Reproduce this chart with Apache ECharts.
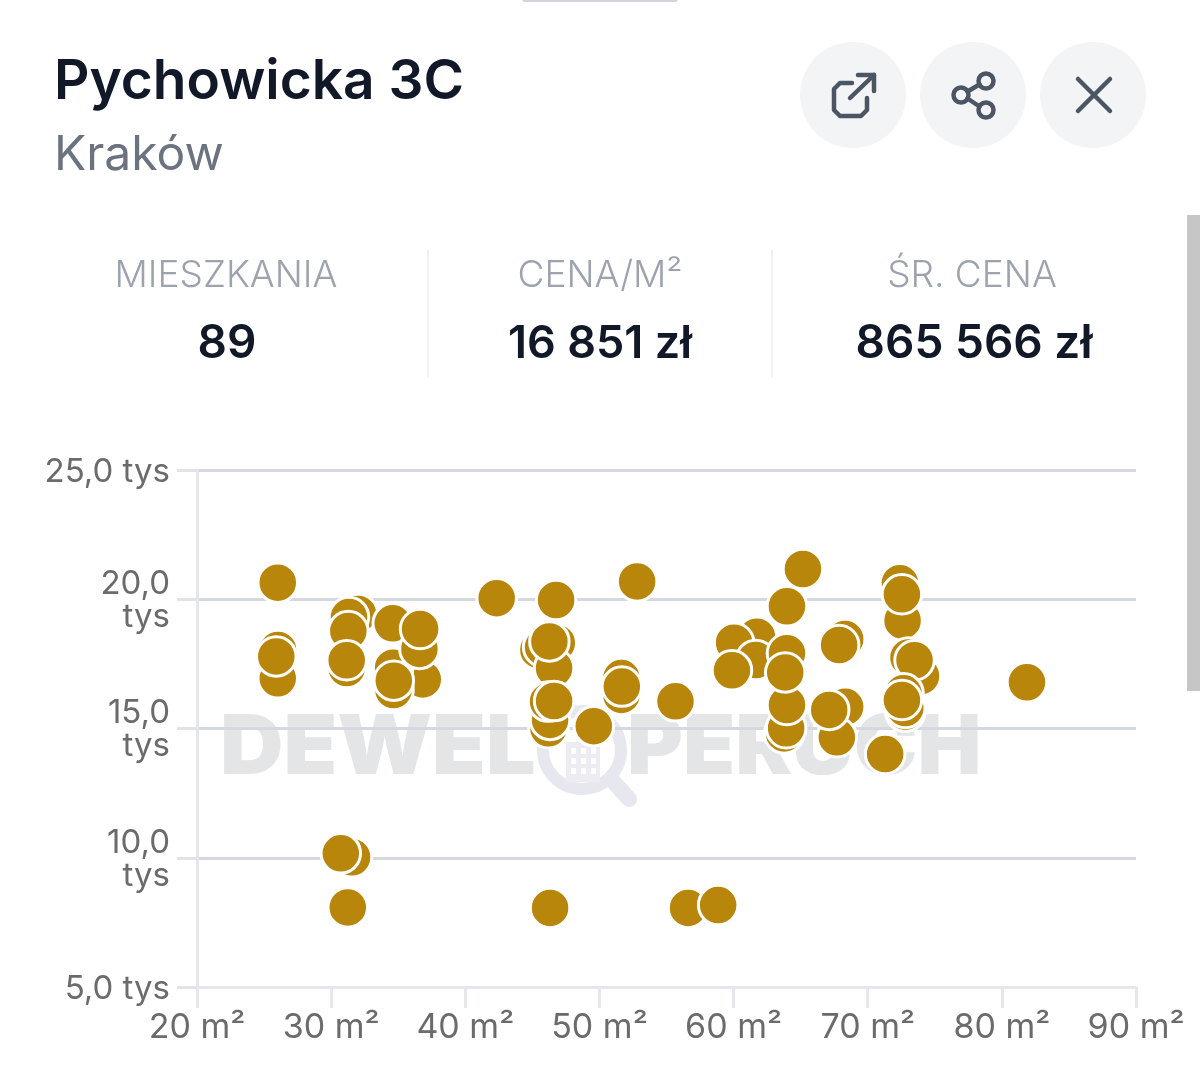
<!DOCTYPE html>
<html><head><meta charset="utf-8">
<style>html,body{margin:0;padding:0;background:#fff}#c{width:1200px;height:1089px}</style>
<script src="https://cdn.jsdelivr.net/npm/echarts@6/dist/echarts.min.js"></script>
</head><body><div id="c"></div>
<script>
const areaM2 = [26.02,26.02,26.04,25.91,32.0,31.33,31.28,31.16,31.16,34.59,36.83,34.62,34.65,34.67,36.58,36.63,
42.34,46.77,52.81,55.67,45.45,45.80,46.82,46.62,46.27,46.20,46.32,46.17,46.62,49.58,51.64,51.64,51.67,
61.74,60.04,61.65,59.88,63.98,65.17,63.77,63.92,63.98,63.98,63.85,68.32,67.87,68.32,67.70,67.13,
72.40,72.60,72.55,73.97,73.04,73.49,72.67,72.80,72.80,72.55,71.30,81.87,31.56,30.72,31.24,46.32,56.61,58.85];
const pricePerM2 = [20640,16940,18040,17790,19430,19310,18770,17340,17640,19070,16900,17350,16490,16850,18080,18850,
20040,19970,20690,16050,18040,18150,18310,17330,18370,15010,15330,16040,16060,15090,16950,16300,16620,
18550,18320,17650,17250,19730,21170,14810,15010,15910,17910,17170,18460,18230,15840,14660,15720,
20620,19170,20190,17030,17750,17640,16360,15650,15790,16100,14010,16790,10020,10170,8080,8060,8060,8170];
const yTickLabels = {5000:['5,0 tys'],10000:['10,0','tys'],15000:['15,0','tys'],20000:['20,0','tys'],25000:['25,0 tys']};
const xTickSuffix = ' m²';
const titleText = 'Pychowicka 3C';
const cityText = 'Kraków';
const statLabels = ['MIESZKANIA','CENA/M²','ŚR. CENA'];
const statValues = ['89','16 851 zł','865 566 zł'];

const FONT = 'Inter, "Noto Sans", sans-serif';
const ICON = {stroke:'#4b5563',lineWidth:4.5,fill:'none',lineCap:'round',lineJoin:'round'};
const txt=(text,x,y,font,fill,align,z)=>({type:'text',z:z||10,style:{text,x,y,font,fill,textAlign:align||'left',textVerticalAlign:'middle'}});
const line=(a,b,c,d)=>({type:'line',z:10,shape:{x1:a,y1:b,x2:c,y2:d},style:ICON});
const poly=(pts)=>({type:'polyline',z:10,shape:{points:pts},style:ICON});
const circ=(x,y,r,st)=>({type:'circle',z:9,shape:{cx:x,cy:y,r},style:st});

const windows=[];
[571,581,591].forEach(x=>[748,758,768].forEach(y=>windows.push({type:'rect',z:-1,shape:{x,y,width:5,height:6},style:{fill:'#ffffff'}})));

const elements=[
 {type:'rect',shape:{x:522,y:-4,width:156,height:6,r:3},style:{fill:'#d1d5db'}},
 {type:'rect',shape:{x:1187,y:215,width:13,height:476},style:{fill:'#c6c6c6'}},
 txt(titleText,54,82,'600 55px '+FONT,'#111827'),
 txt(cityText,54,156,'400 48px '+FONT,'#6b7280'),
 circ(853,95,53,{fill:'#f3f4f6'}),circ(973,95,53,{fill:'#f3f4f6'}),circ(1093,95,53,{fill:'#f3f4f6'}),
 poly([[852,83],[840,83],[834,89],[834,110],[840,116],[861,116],[867,110],[867,98]]),
 line(850,98,874,75),poly([[858,75],[874,75],[874,91]]),
 {type:'circle',z:10,shape:{cx:986,cy:81,r:7.5},style:ICON},
 {type:'circle',z:10,shape:{cx:961,cy:95,r:7.5},style:ICON},
 {type:'circle',z:10,shape:{cx:986,cy:110,r:7.5},style:ICON},
 line(967.5,91.5,979.5,84.5),line(967.5,98.5,979.5,106.5),
 line(1078,79,1110,111),line(1110,79,1078,111),
 {type:'rect',shape:{x:427,y:250,width:2,height:127},style:{fill:'#f0f1f3'}},
 {type:'rect',shape:{x:771,y:250,width:2,height:127},style:{fill:'#f0f1f3'}},
 txt(statLabels[0],226,276,'300 37px '+FONT,'#9ca3af','center'),
 txt(statLabels[1],600,276,'300 37px '+FONT,'#9ca3af','center'),
 txt(statLabels[2],972,276,'300 37px '+FONT,'#9ca3af','center'),
 txt(statValues[0],227,344,'600 46px '+FONT,'#111827','center'),
 txt(statValues[1],600,344,'600 45px '+FONT,'#111827','center'),
 txt(statValues[2],974,344,'600 46px '+FONT,'#111827','center'),
 // watermark
 Object.assign(txt('DEWEL',220,749,'900 82px '+FONT,'#e4e5e7','left',-1),{scaleX:1.07,originX:220,originY:749}),
 Object.assign(txt('PERUCH',627,749,'900 82px '+FONT,'#e4e5e7','left',-1),{scaleX:1.04,originX:627,originY:749}),
 {type:'circle',z:-1,shape:{cx:582,cy:750,r:39},style:{fill:'#ffffff',stroke:'#e7e7ef',lineWidth:12}},
 {type:'line',z:-1,shape:{x1:611,y1:779,x2:629,y2:799},style:{stroke:'#e7e7ef',lineWidth:16,lineCap:'round'}},
 {type:'rect',z:-1,shape:{x:566,y:742,width:34,height:40},style:{fill:'#ececf2'}},
 ...windows
];

const labelBase={color:'#6b6b6b',fontSize:33,fontFamily:FONT,align:'right'};
const chart=echarts.init(document.getElementById('c'),null,{renderer:'canvas'});
chart.setOption({
 animation:false,
 backgroundColor:'#ffffff',
 grid:{left:197,right:64,top:470,bottom:102,containLabel:false},
 graphic:{elements},
 xAxis:{type:'value',min:20,max:90,interval:10,splitLine:{show:false},
  axisLine:{show:true,onZero:false,lineStyle:{color:'#e5e7eb',width:3}},
  axisTick:{show:true,length:21,lineStyle:{color:'#e5e7eb',width:3}},
  axisLabel:{margin:24,color:'#6b6b6b',fontSize:34,fontFamily:FONT,showMinLabel:true,showMaxLabel:true,hideOverlap:false,
   formatter:v=>v+xTickSuffix}},
 yAxis:{type:'value',min:5000,max:25000,interval:5000,
  splitLine:{show:true,lineStyle:{color:'#d5d8df',width:3}},
  axisLine:{show:true,onZero:false,lineStyle:{color:'#e5e7eb',width:3}},
  axisTick:{show:true,length:20,lineStyle:{color:'#e1e3e8',width:3}},
  axisLabel:{margin:27,align:'right',showMinLabel:true,showMaxLabel:true,hideOverlap:false,
   rich:{a:{...labelBase,lineHeight:29,padding:[4,0,0,0]},b:{...labelBase,lineHeight:33,padding:[3,0,0,0]}},
   formatter:v=>{const p=yTickLabels[v];const k=p.length>1?'b':'a';return p.map(s=>'{'+k+'|'+s+'}').join('\n');}}},
 series:[{type:'scatter',z:3,symbol:'circle',symbolSize:39.5,
  itemStyle:{color:'#b8860b',opacity:1,borderColor:'#ffffff',borderWidth:3},
  data:areaM2.map((x,i)=>[x,pricePerM2[i]])}]
});
</script></body></html>
